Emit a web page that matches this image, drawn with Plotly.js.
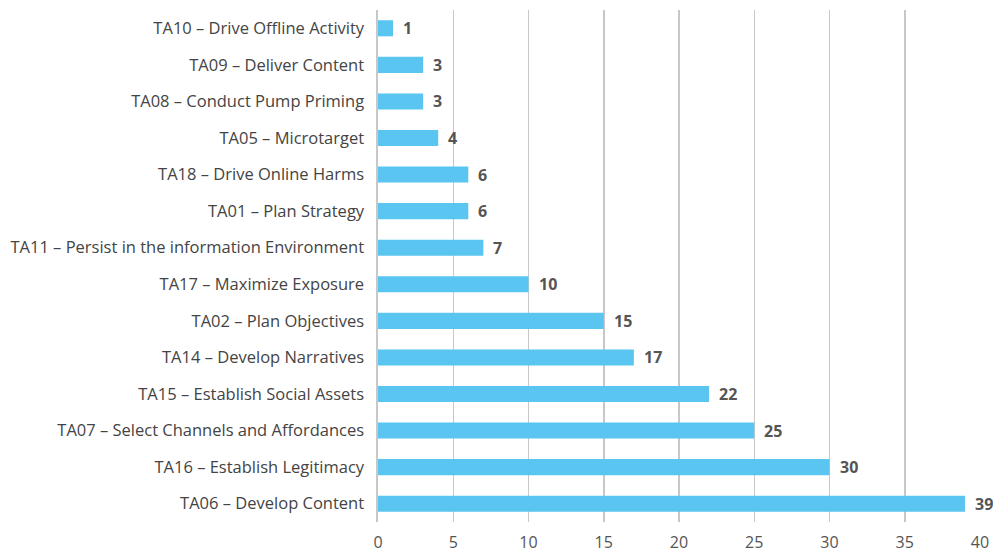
<!DOCTYPE html>
<html><head><meta charset="utf-8">
<script src="https://cdn.plot.ly/plotly-3.0.1.min.js"></script>
<style>html,body{margin:0;padding:0;background:#fff}</style>
</head><body>
<div id="chart" style="width:993px;height:554px"></div>
<script>
var categories = [
  "TA10 – Drive Offline Activity",
  "TA09 – Deliver Content",
  "TA08 – Conduct Pump Priming",
  "TA05 – Microtarget",
  "TA18 – Drive Online Harms",
  "TA01 – Plan Strategy",
  "TA11 – Persist in the information Environment",
  "TA17 – Maximize Exposure",
  "TA02 – Plan Objectives",
  "TA14 – Develop Narratives",
  "TA15 – Establish Social Assets",
  "TA07 – Select Channels and Affordances",
  "TA16 – Establish Legitimacy",
  "TA06 – Develop Content"
];
var values = [1, 3, 3, 4, 6, 6, 7, 10, 15, 17, 22, 25, 30, 39];
var tickValues = [0, 5, 10, 15, 20, 25, 30, 35, 40];

var annotations = categories.map(function(c, i){
  return {x: values[i], y: c, xref: 'x', yref: 'y', text: String(values[i]),
    showarrow: false, xanchor: 'left', yanchor: 'middle', xshift: 8,
    font: {family: 'Open Sans', size: 16, color: '#555555', weight: 'bold'}};
});

var trace = {
  type: 'bar', orientation: 'h', x: values, y: categories,
  marker: {color: '#5BC5F2'}, hoverinfo: 'none', cliponaxis: false
};
var layout = {
  width: 993, height: 554,
  margin: {l: 378, r: 13, t: 10, b: 32},
  paper_bgcolor: '#fff', plot_bgcolor: '#fff',
  bargap: 0.56,
  font: {family: 'Open Sans', size: 16.5, color: '#444444'},
  xaxis: {range: [0, 40], tickvals: tickValues, showgrid: true, gridcolor: '#c8c8c8', gridwidth: 1.5,
          zeroline: false, showline: false, ticks: '', ticklabelstandoff: 9,
          tickfont: {size: 16, color: '#555555'}, fixedrange: true},
  yaxis: {categoryorder: 'array', categoryarray: categories, autorange: 'reversed', showline: true,
          linecolor: '#c8c8c8', linewidth: 2, ticks: '', ticksuffix: '  ', showgrid: false,
          tickfont: {size: 16.5, color: '#444444'}, fixedrange: true},
  annotations: annotations,
  showlegend: false
};
Plotly.newPlot('chart', [trace], layout, {displayModeBar: false, staticPlot: true});
</script>
</body></html>
